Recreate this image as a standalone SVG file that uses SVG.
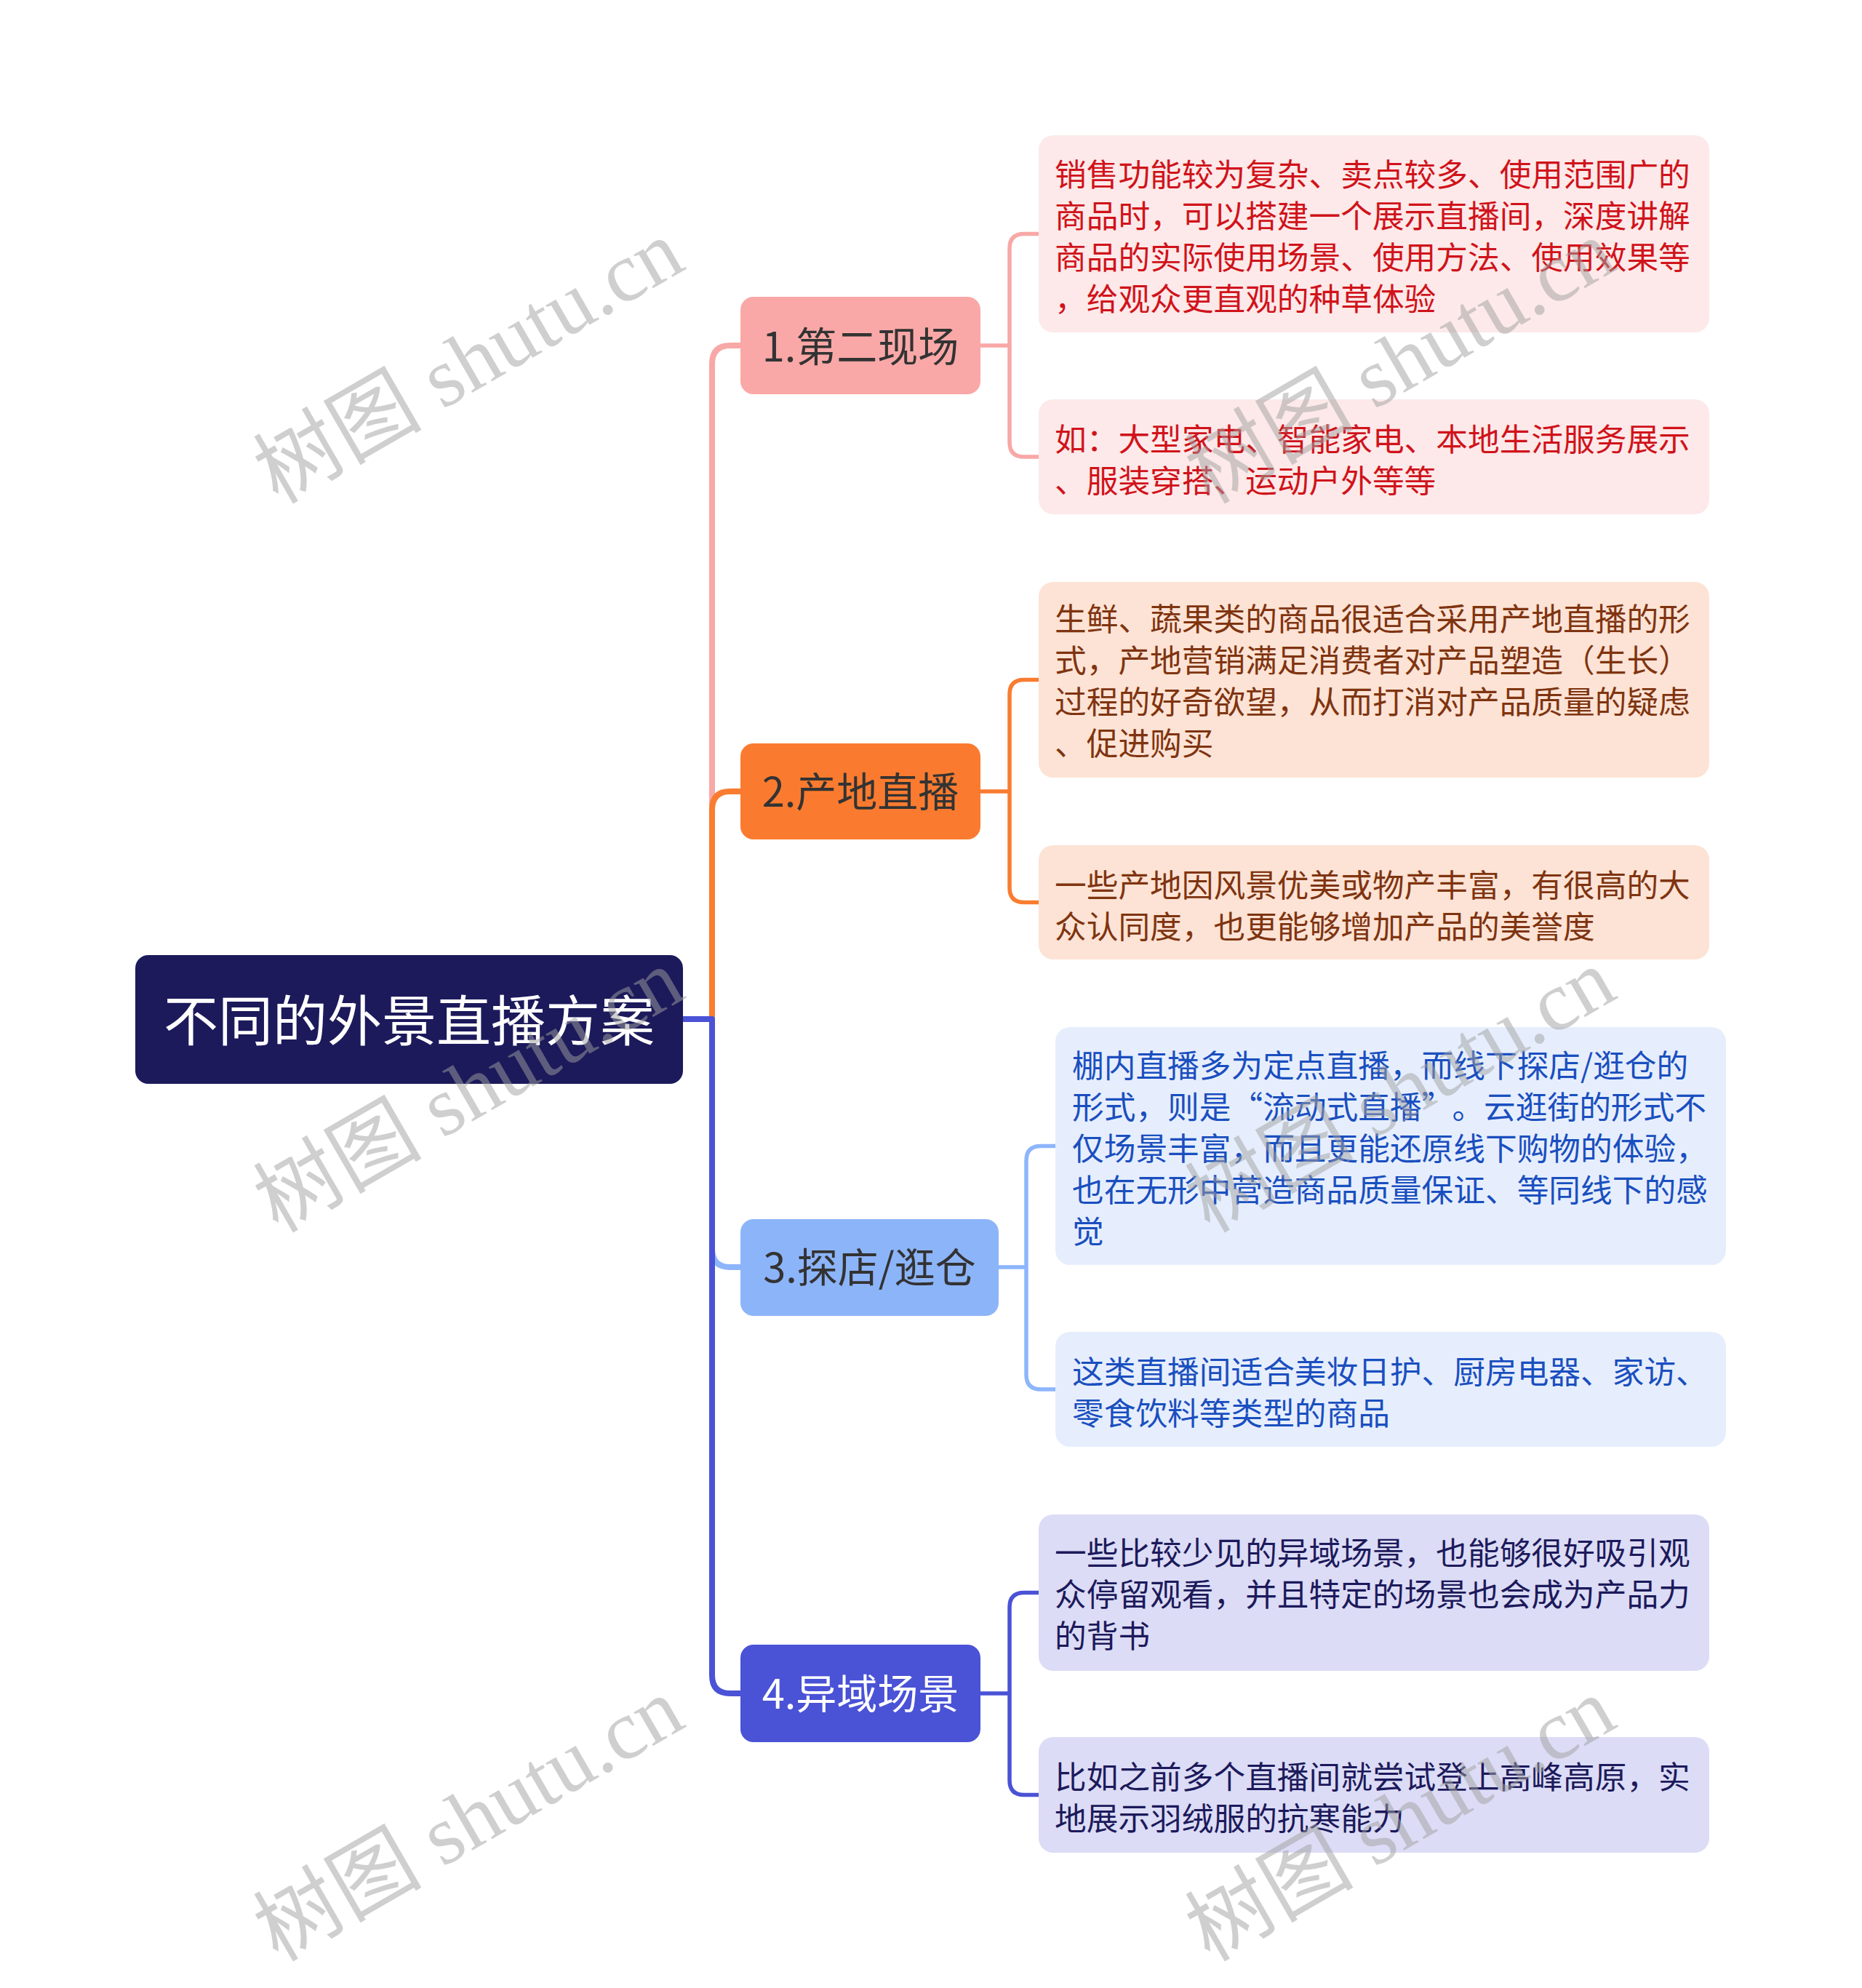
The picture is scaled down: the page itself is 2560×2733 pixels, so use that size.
<svg xmlns="http://www.w3.org/2000/svg" width="2560" height="2733" viewBox="0 0 2560 2733">
<style>
.t{font-family:"Noto Sans CJK SC","Noto Sans",sans-serif;}
.root{font-size:75px;fill:#ffffff;text-anchor:middle;}
.n{font-size:56px;fill:#333333;text-anchor:middle;}
.c{font-size:43.7px;}
.l1{fill:none;stroke-width:8;stroke-linejoin:round;}
.l2{fill:none;stroke-width:5.5;stroke-linejoin:round;}
.wm{font-family:"Liberation Serif","Noto Sans CJK SC",serif;font-size:116px;fill:#a0a0a0;fill-opacity:0.5;}
</style>
<rect width="2560" height="2733" fill="#ffffff"/>
<g id="connectors">
<path class="l1" stroke="#f8a8a6" d="M939,1401 H979 V500 Q979,475 1004,475 H1018"/>
<path class="l1" stroke="#f97c30" d="M939,1401 H979 V1113 Q979,1088 1004,1088 H1018"/>
<path class="l1" stroke="#8db5fb" d="M939,1401 H979 V1717 Q979,1742 1004,1742 H1018"/>
<path class="l1" stroke="#4a52d6" d="M939,1401 H979 V2303 Q979,2328 1004,2328 H1018"/>
<path class="l2" stroke="#f8a8a6" d="M1348,475 H1388 V341.5 Q1388,321.5 1408,321.5 H1428 M1388,475 V608 Q1388,628 1408,628 H1428"/>
<path class="l2" stroke="#f97c30" d="M1348,1088 H1388 V954.5 Q1388,934.5 1408,934.5 H1428 M1388,1088 V1220.5 Q1388,1240.5 1408,1240.5 H1428"/>
<path class="l2" stroke="#8db5fb" d="M1373,1742 H1411 V1595.5 Q1411,1575.5 1431,1575.5 H1451 M1411,1742 V1890 Q1411,1910 1431,1910 H1451"/>
<path class="l2" stroke="#4a52d6" d="M1348,2328 H1388 V2209.5 Q1388,2189.5 1408,2189.5 H1428 M1388,2328 V2447.5 Q1388,2467.5 1408,2467.5 H1428"/>
</g>
<g id="root">
<rect x="186" y="1313" width="753" height="177" rx="18" fill="#1c1a5b"/>
<text class="t root" x="562.5" y="1431">不同的外景直播方案</text>
</g>
<g id="node1">
<rect x="1018" y="408" width="330" height="134" rx="18" fill="#f9a8a7"/>
<text class="t n" x="1183" y="497">1.第二现场</text>
</g>
<g id="node2">
<rect x="1018" y="1022" width="330" height="132" rx="18" fill="#fa7b2f"/>
<text class="t n" x="1183" y="1109">2.产地直播</text>
</g>
<g id="node3">
<rect x="1018" y="1676" width="355" height="133" rx="18" fill="#8cb4f9"/>
<text class="t n" x="1195.5" y="1763">3.探店/逛仓</text>
</g>
<g id="node4">
<rect x="1018" y="2261" width="330" height="134" rx="18" fill="#4a52d6"/>
<text class="t n" x="1183" y="2349" style="fill:#ffffff">4.异域场景</text>
</g>
<g id="c1a">
<rect x="1428" y="186" width="922" height="271" rx="20" fill="#fde9e9"/>
<text class="t c" fill="#d0131b"><tspan x="1450" y="256">销售功能较为复杂、卖点较多、使用范围广的</tspan><tspan x="1450" y="313">商品时，可以搭建一个展示直播间，深度讲解</tspan><tspan x="1450" y="370">商品的实际使用场景、使用方法、使用效果等</tspan><tspan x="1450" y="427">，给观众更直观的种草体验</tspan></text>
</g>
<g id="c1b">
<rect x="1428" y="549" width="922" height="158" rx="20" fill="#fde9e9"/>
<text class="t c" fill="#d0131b"><tspan x="1450" y="620">如：大型家电、智能家电、本地生活服务展示</tspan><tspan x="1450" y="677">、服装穿搭、运动户外等等</tspan></text>
</g>
<g id="c2a">
<rect x="1428" y="800" width="922" height="269" rx="20" fill="#fde3d5"/>
<text class="t c" fill="#7f3410"><tspan x="1450" y="867">生鲜、蔬果类的商品很适合采用产地直播的形</tspan><tspan x="1450" y="924">式，产地营销满足消费者对产品塑造（生长）</tspan><tspan x="1450" y="981">过程的好奇欲望，从而打消对产品质量的疑虑</tspan><tspan x="1450" y="1038">、促进购买</tspan></text>
</g>
<g id="c2b">
<rect x="1428" y="1162" width="922" height="157" rx="20" fill="#fde3d5"/>
<text class="t c" fill="#7f3410"><tspan x="1450" y="1233">一些产地因风景优美或物产丰富，有很高的大</tspan><tspan x="1450" y="1290">众认同度，也更能够增加产品的美誉度</tspan></text>
</g>
<g id="c3a">
<rect x="1451" y="1412" width="922" height="327" rx="20" fill="#e6eefd"/>
<text class="t c" fill="#1a4fbf"><tspan x="1474" y="1481">棚内直播多为定点直播，而线下探店/逛仓的</tspan><tspan x="1474" y="1538">形式，则是“流动式直播”</tspan><tspan dx="20">。云逛街的形式不</tspan><tspan x="1474" y="1595">仅场景丰富，而且更能还原线下购物的体验，</tspan><tspan x="1474" y="1652">也在无形中营造商品质量保证、等同线下的感</tspan><tspan x="1474" y="1709">觉</tspan></text>
</g>
<g id="c3b">
<rect x="1451" y="1831" width="922" height="158" rx="20" fill="#e6eefd"/>
<text class="t c" fill="#1a4fbf"><tspan x="1474" y="1902">这类直播间适合美妆日护、厨房电器、家访、</tspan><tspan x="1474" y="1959">零食饮料等类型的商品</tspan></text>
</g>
<g id="c4a">
<rect x="1428" y="2082" width="922" height="215" rx="20" fill="#dcdcf6"/>
<text class="t c" fill="#1c1a5b"><tspan x="1450" y="2151">一些比较少见的异域场景，也能够很好吸引观</tspan><tspan x="1450" y="2208">众停留观看，并且特定的场景也会成为产品力</tspan><tspan x="1450" y="2265">的背书</tspan></text>
</g>
<g id="c4b">
<rect x="1428" y="2388" width="922" height="159" rx="20" fill="#dcdcf6"/>
<text class="t c" fill="#1c1a5b"><tspan x="1450" y="2459">比如之前多个直播间就尝试登上高峰高原，实</tspan><tspan x="1450" y="2516">地展示羽绒服的抗寒能力</tspan></text>
</g>
<g id="watermarks">
<text class="wm" transform="translate(382,694) rotate(-30)">树图 shutu.cn</text>
<text class="wm" transform="translate(382,1696) rotate(-30)">树图 shutu.cn</text>
<text class="wm" transform="translate(382,2698) rotate(-30)">树图 shutu.cn</text>
<text class="wm" transform="translate(1663,694) rotate(-30)">树图 shutu.cn</text>
<text class="wm" transform="translate(1663,1696) rotate(-30)">树图 shutu.cn</text>
<text class="wm" transform="translate(1663,2698) rotate(-30)">树图 shutu.cn</text>
</g>
</svg>
